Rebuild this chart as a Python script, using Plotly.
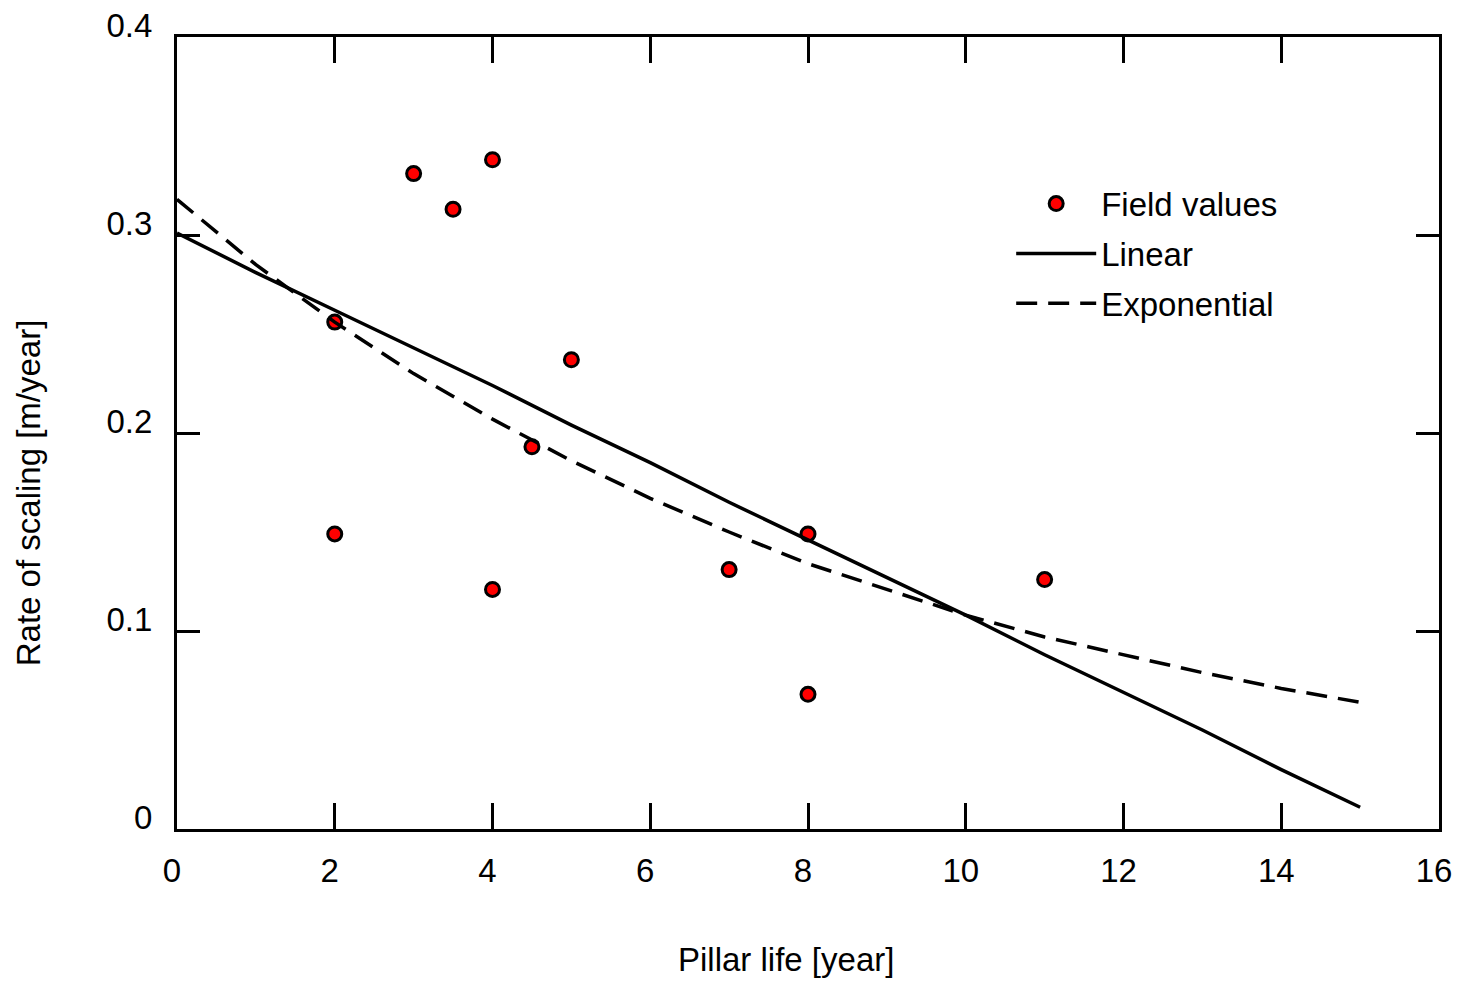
import plotly.graph_objects as go

# Field measurements
field_x = [2, 2, 3, 3.5, 4, 4, 4.5, 5, 7, 8, 8, 11]
field_y = [0.256, 0.149, 0.331, 0.313, 0.338, 0.121, 0.193, 0.237, 0.131, 0.149, 0.068, 0.126]

# Fitted curves
fit_x = [0, 1, 2, 3, 4, 5, 6, 7, 8, 9, 10, 11, 12, 13, 14, 15]
linear_y = [0.301, 0.281, 0.262, 0.243, 0.224, 0.204, 0.185, 0.165, 0.146, 0.127, 0.108, 0.088, 0.069, 0.050, 0.030, 0.011]
expo_y = [0.318, 0.285, 0.256, 0.230, 0.207, 0.186, 0.167, 0.150, 0.134, 0.121, 0.108, 0.097, 0.088, 0.079, 0.071, 0.064]

x_ticks = [0, 2, 4, 6, 8, 10, 12, 14, 16]
y_ticks = [0, 0.1, 0.2, 0.3, 0.4]
y_tick_text = ["0", "0.1", "0.2", "0.3", "0.4"]

FONT = "Liberation Sans, Arial, sans-serif"
FS = 33

fig = go.Figure()
fig.add_trace(go.Scatter(
    x=field_x, y=field_y, mode="markers", name="Field values", legendgroup="a",
    marker=dict(color="#ff0000", size=14, line=dict(color="black", width=3)),
))
fig.add_trace(go.Scatter(
    x=fit_x, y=linear_y, mode="lines", name="Linear", legendgroup="b",
    line=dict(color="black", width=3.5),
))
fig.add_trace(go.Scatter(
    x=fit_x, y=expo_y, mode="lines", name="Exponential", legendgroup="c",
    line=dict(color="black", width=3.5, dash="21px,11px"),
))

axis_common = dict(
    showgrid=False, zeroline=False, showline=True, linecolor="black", linewidth=3,
    mirror="ticks", ticks="inside", tickcolor="black", tickwidth=3, automargin=False,
    tickfont=dict(family=FONT, size=FS, color="black"),
)

fig.update_layout(
    width=1460, height=982,
    margin=dict(l=177, r=21, t=37, b=153, autoexpand=False),
    plot_bgcolor="white", paper_bgcolor="white",
    font=dict(family=FONT, size=FS, color="black"),
    showlegend=True,
    legend=dict(
        x=0.661, y=0.825, xanchor="left", yanchor="top",
        bgcolor="rgba(0,0,0,0)", borderwidth=0,
        font=dict(family=FONT, size=FS, color="black"),
        itemwidth=80, tracegroupgap=4, traceorder="grouped",
    ),
    xaxis=dict(range=[0, 16], tickvals=x_ticks, ticklen=26,
               ticklabelstandoff=10, ticklabelshift=-5, **axis_common),
    yaxis=dict(range=[0, 0.4], tickvals=y_ticks, ticktext=y_tick_text, ticklen=23,
               ticklabelstandoff=15, ticklabelshift=-12, **axis_common),
    annotations=[
        dict(text="Pillar life [year]", xref="paper", yref="paper",
             x=0.4826, y=-0.1654, xanchor="center", yanchor="middle",
             showarrow=False, font=dict(family=FONT, size=FS, color="black")),
        dict(text="Rate of scaling [m/year]", xref="paper", yref="paper",
             x=-0.118, y=0.424, xanchor="center", yanchor="middle", textangle=-90,
             showarrow=False, font=dict(family=FONT, size=FS, color="black")),
    ],
)

fig.write_html("out.html")
